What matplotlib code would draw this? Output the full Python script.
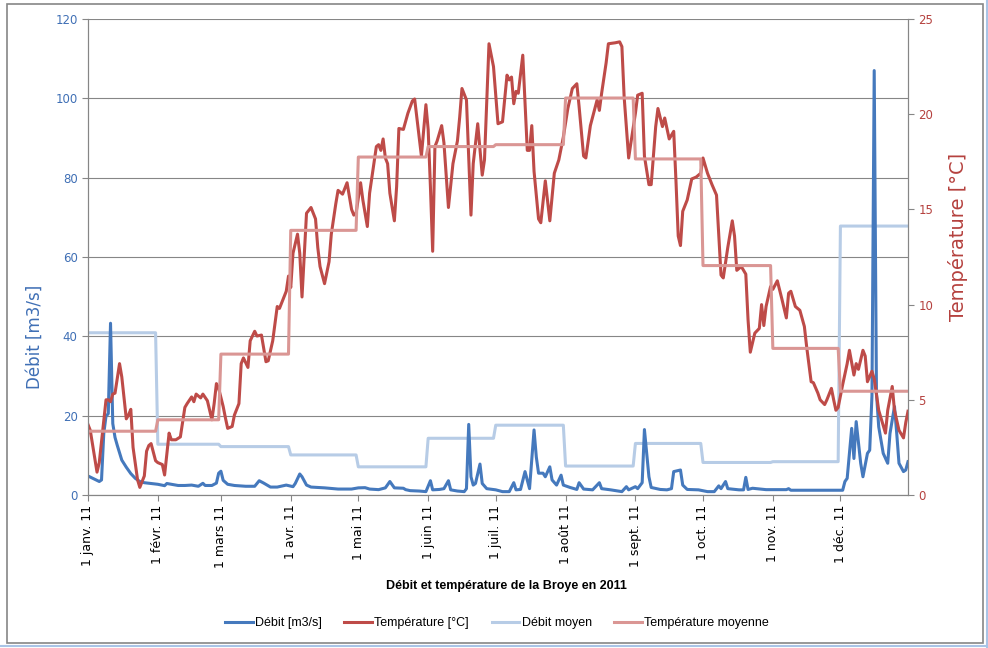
import numpy as np
import pandas as pd
import matplotlib
matplotlib.use('Agg')
import matplotlib.pyplot as plt
from matplotlib.lines import Line2D
from matplotlib.patches import Rectangle

# Débit journalier (jour de l'année, m3/s)
q_jour = [0, 3, 5, 6, 7, 8, 9, 10, 11, 12, 13, 15, 17, 19, 21, 23, 25, 28, 31, 34,
          35, 37, 40, 43, 46, 49, 51, 52, 55, 57, 58, 59, 60, 62, 65, 70, 74, 76, 78, 81,
          84, 88, 91, 92, 94, 95, 97, 99, 105, 111, 117, 120, 123, 125, 129, 132, 134, 136, 140, 141,
          143, 147, 150, 152, 153, 156, 158, 160, 161, 164, 167, 168, 169, 170, 171, 172, 174, 175, 177, 181,
          184, 187, 189, 190, 192, 194, 196, 198, 199, 200, 202, 203, 205, 206, 208, 210, 211, 214, 217, 218,
          220, 224, 227, 228, 232, 237, 239, 240, 243, 244, 246, 247, 249, 250, 254, 257, 259, 260, 263, 264,
          266, 271, 275, 278, 280, 281, 283, 284, 289, 291, 292, 293, 295, 301, 310, 311, 312, 322, 330, 335,
          336, 337, 339, 340, 341, 343, 344, 346, 347, 348, 349, 350, 351, 353, 355, 356, 358, 359, 360, 362,
          363, 364]
q_val = [4.8, 3.95, 3.4, 3.8, 15.5, 19.9, 20.5, 43.3, 18.0, 14.5, 12.5, 8.8, 7.0, 5.4, 4.2, 3.4, 3.1, 2.9, 2.7, 2.35,
         2.9, 2.7, 2.4, 2.4, 2.5, 2.2, 2.95, 2.4, 2.4, 3.0, 5.5, 6.0, 3.7, 2.7, 2.4, 2.2, 2.2, 3.6, 3.0, 2.0,
         2.0, 2.5, 2.1, 2.9, 5.3, 4.6, 2.5, 2.0, 1.8, 1.5, 1.5, 1.8, 1.85, 1.5, 1.35, 1.8, 3.4, 1.8, 1.7, 1.35,
         1.1, 1.0, 0.85, 3.6, 1.3, 1.4, 1.6, 3.6, 1.3, 1.0, 0.85, 1.6, 17.8, 4.6, 2.5, 2.9, 7.8, 2.9, 1.6, 1.3,
         0.85, 0.85, 3.1, 1.3, 1.4, 5.9, 1.6, 16.4, 9.6, 5.5, 5.5, 4.6, 7.1, 3.8, 2.5, 5.0, 2.5, 1.9, 1.4, 3.1,
         1.5, 1.3, 3.1, 1.6, 1.3, 0.85, 2.1, 1.3, 2.1, 1.6, 3.1, 16.5, 4.6, 1.9, 1.4, 1.3, 1.6, 5.9, 6.3, 2.5,
         1.4, 1.3, 0.85, 0.85, 2.3, 1.6, 3.4, 1.6, 1.3, 1.3, 4.45, 1.4, 1.7, 1.35, 1.35, 1.6, 1.2, 1.2, 1.2, 1.2,
         3.4, 4.2, 16.8, 9.2, 18.5, 8.0, 4.6, 10.5, 11.3, 25.0, 107.0, 25.6, 17.2, 10.5, 8.0, 15.5, 22.3, 15.5, 8.0, 5.9,
         6.3, 8.4]

# Température journalière (jour de l'année, °C)
t_jour = [0, 1, 4, 5, 8, 9, 10, 11, 12, 14, 15, 17, 18, 19, 20, 22, 23, 25, 26, 27,
          28, 30, 31, 33, 34, 36, 37, 39, 41, 43, 44, 46, 47, 48, 50, 51, 53, 55, 56, 57,
          58, 60, 61, 62, 64, 65, 67, 68, 69, 71, 72, 74, 75, 77, 79, 80, 82, 83, 84, 85,
          87, 88, 89, 90, 91, 93, 94, 95, 96, 97, 99, 101, 102, 103, 105, 107, 108, 110, 111, 113,
          115, 117, 118, 119, 121, 122, 124, 125, 128, 129, 130, 131, 132, 133, 134, 136, 137, 138, 140, 142,
          144, 145, 146, 148, 150, 151, 152, 153, 154, 155, 157, 158, 160, 162, 164, 165, 166, 168, 170, 171,
          173, 175, 176, 177, 178, 180, 182, 184, 186, 187, 188, 189, 190, 191, 193, 195, 196, 197, 198, 200,
          201, 203, 205, 207, 209, 211, 213, 215, 217, 218, 220, 221, 223, 226, 227, 228, 230, 231, 234, 236,
          237, 238, 240, 241, 243, 244, 246, 247, 249, 250, 252, 253, 255, 256, 258, 260, 261, 262, 263, 264,
          266, 268, 270, 272, 273, 275, 277, 279, 280, 281, 282, 284, 286, 287, 288, 290, 292, 293, 294, 296,
          298, 299, 300, 301, 303, 304, 306, 308, 310, 311, 312, 314, 316, 318, 319, 321, 322, 324, 325, 327,
          328, 330, 331, 332, 333, 335, 337, 338, 340, 341, 342, 344, 345, 346, 348, 349, 351, 354, 355, 357,
          358, 360, 362, 363, 364]
t_val = [3.7, 3.4, 1.2, 1.7, 5.0, 5.0, 4.9, 5.3, 5.35, 6.9, 6.2, 4.0, 4.2, 4.5, 2.5, 0.8, 0.4, 1.0, 2.3, 2.6,
         2.7, 1.8, 1.7, 1.6, 1.05, 3.25, 2.9, 2.9, 3.05, 4.6, 4.8, 5.15, 4.9, 5.3, 5.1, 5.3, 4.95, 3.95, 4.8, 5.85,
         5.6, 4.65, 4.05, 3.5, 3.6, 4.2, 4.8, 6.9, 7.2, 6.7, 8.1, 8.6, 8.35, 8.4, 7.0, 7.05, 8.1, 9.0, 9.9, 9.8,
         10.4, 10.7, 11.5, 10.9, 12.7, 13.7, 12.7, 10.4, 12.6, 14.8, 15.1, 14.5, 13.0, 12.0, 11.1, 12.25, 13.7, 15.3, 16.0, 15.8,
         16.4, 15.0, 14.7, 14.8, 16.4, 15.5, 14.1, 15.85, 18.3, 18.4, 18.1, 18.7, 17.7, 17.4, 15.85, 14.4, 16.2, 19.25, 19.2, 20.05,
         20.7, 20.8, 19.8, 17.8, 20.5, 19.2, 16.2, 12.8, 18.3, 18.6, 19.4, 18.5, 15.1, 17.4, 18.6, 19.85, 21.35, 20.75, 14.7, 17.4,
         19.5, 16.8, 17.6, 20.6, 23.7, 22.5, 19.5, 19.6, 22.05, 21.8, 21.95, 20.55, 21.2, 21.1, 23.1, 18.1, 18.1, 19.4, 17.0, 14.5,
         14.3, 16.5, 14.4, 16.9, 17.6, 18.8, 20.3, 21.35, 21.6, 20.4, 17.8, 17.7, 19.4, 20.75, 20.2, 21.1, 22.7, 23.7, 23.75, 23.8,
         23.55, 20.9, 17.7, 18.5, 20.05, 21.0, 21.1, 17.8, 16.3, 16.3, 19.35, 20.3, 19.35, 19.8, 18.7, 19.1, 16.5, 13.6, 13.1, 14.9,
         15.5, 16.6, 16.7, 16.9, 17.7, 16.9, 16.3, 15.75, 13.6, 11.55, 11.4, 13.0, 14.4, 13.6, 11.8, 12.0, 11.6, 9.2, 7.5, 8.5,
         8.75, 10.0, 8.9, 9.9, 10.95, 10.8, 11.25, 10.3, 9.3, 10.6, 10.7, 9.9, 9.7, 8.85, 7.8, 5.95, 5.9, 5.35, 5.0, 4.75,
         5.0, 5.6, 5.0, 4.45, 4.6, 5.8, 6.9, 7.6, 6.3, 6.9, 6.6, 7.6, 7.3, 5.95, 6.5, 6.1, 4.45, 3.25, 4.45, 5.7,
         4.45, 3.4, 3.0, 3.8, 4.4]

# Moyennes mensuelles
debit_moyen = [40.9, 12.8, 12.2, 10.1, 7.1, 14.3, 17.6, 7.3, 13.0, 8.2, 8.4, 67.8]
temp_moyenne = [3.35, 3.95, 7.4, 13.9, 17.75, 18.3, 18.4, 20.85, 17.65, 12.05, 7.7, 5.45]

mois = ['1 janv. 11', '1 févr. 11', '1 mars 11', '1 avr. 11', '1 mai 11', '1 juin 11',
        '1 juil. 11', '1 août 11', '1 sept. 11', '1 oct. 11', '1 nov. 11', '1 déc. 11']

c_debit = '#4579BD'
c_temp = '#BE4B48'
c_debit_moy = '#B7CCE6'
c_temp_moy = '#DA9694'
c_gris = '#868686'

debut = pd.Timestamp('2011-01-01')
jours = pd.date_range('2011-01-01', '2011-12-31', freq='D')
q_dates = debut + pd.to_timedelta(q_jour, unit='D')
t_dates = debut + pd.to_timedelta(t_jour, unit='D')
q_moy = np.array(debit_moyen)[jours.month - 1]
t_moy = np.array(temp_moyenne)[jours.month - 1]

fig = plt.figure(figsize=(9.88, 6.48), dpi=100)
ax = fig.add_axes([88 / 988, 1 - 495 / 648, 820 / 988, 476 / 648])
ax2 = ax.twinx()

lw = 2.2
ax.plot(jours, q_moy, color=c_debit_moy, lw=lw, solid_joinstyle='round')
ax.plot(q_dates, q_val, color=c_debit, lw=lw, solid_joinstyle='round')
ax2.plot(t_dates, t_val, color=c_temp, lw=lw, solid_joinstyle='round')
ax2.plot(jours, t_moy, color=c_temp_moy, lw=lw, solid_joinstyle='round')

ax.set_xlim(jours[0], jours[-1])
ax.set_ylim(0, 120)
ax2.set_ylim(0, 25)
ax.set_yticks(range(0, 121, 20))
ax2.set_yticks(range(0, 26, 5))
ax.set_xticks(pd.date_range('2011-01-01', periods=12, freq='MS'))
ax.set_xticklabels(mois, rotation=90, fontsize=9)

ax.yaxis.grid(True, color=c_gris, lw=0.8)
ax.set_axisbelow(True)
for a in (ax, ax2):
    a.spines['top'].set_visible(False)
    for s in ('left', 'right', 'bottom'):
        a.spines[s].set_color(c_gris)
        a.spines[s].set_linewidth(0.8)
ax.tick_params(axis='y', colors=c_gris, labelcolor='#3F6FB5', labelsize=8.5, length=4, width=0.8)
ax2.tick_params(axis='y', colors=c_gris, labelcolor='#B5413E', labelsize=8.5, length=4, width=0.8)
ax.tick_params(axis='x', colors=c_gris, labelcolor='black', length=4, width=0.8, pad=3)

fig.text(35 / 988, 1 - 337 / 648, 'Débit [m3/s]', rotation=90, ha='center', va='center',
         color='#3F6FB5', fontsize=12)
fig.text(958 / 988, 1 - 237 / 648, 'Température [°C]', rotation=90, ha='center', va='center',
         color='#B5413E', fontsize=14)
fig.text(506 / 988, 1 - 586 / 648, 'Débit et température de la Broye en 2011', ha='center', va='center',
         fontsize=9, fontweight='bold', family='Liberation Sans')

handles = [Line2D([], [], color=c, lw=2.2) for c in (c_debit, c_temp, c_debit_moy, c_temp_moy)]
labels = ['Débit [m3/s]', 'Température [°C]', 'Débit moyen', 'Température moyenne']
fig.legend(handles, labels, loc='center', bbox_to_anchor=(497 / 988, 1 - 623 / 648), ncol=4,
           frameon=False, handlelength=2.2, handletextpad=0.2, columnspacing=1.8,
           prop={'family': 'Liberation Sans', 'size': 9})

# cadre du graphique
fig.patches.append(Rectangle((7 / 988, 1 - 643 / 648), 976 / 988, 639 / 648, transform=fig.transFigure,
                             fill=False, edgecolor=c_gris, lw=1.2))
fig.add_artist(Line2D([986.5 / 988, 986.5 / 988], [0, 1], color='#A9C4E6', lw=1.5))
fig.add_artist(Line2D([0, 1], [2.5 / 648, 2.5 / 648], color='#A9C4E6', lw=1.5))

fig.savefig('out.png', dpi=100)
